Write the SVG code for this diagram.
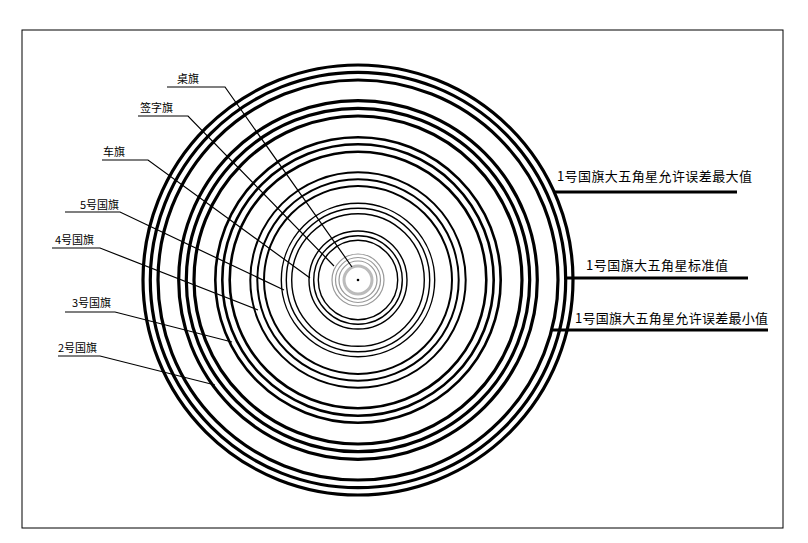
<svg xmlns="http://www.w3.org/2000/svg" width="808" height="543" viewBox="0 0 808 543">
<style>
.c{fill:none;stroke:#000}
.a{stroke-width:3.2}.b{stroke-width:2.6}.d{stroke-width:2}.e{stroke-width:1.4}
.g{fill:none;stroke:#999;stroke-width:1.2}
.l{stroke:#000;stroke-width:1.2;fill:none}
.r{stroke:#000;stroke-width:3;fill:none}
text{font-family:"Noto Sans CJK SC","Liberation Sans",sans-serif;fill:#000}
.s{font-size:11px}.t{font-size:13px}
</style>
<rect width="808" height="543" fill="#fff"/>
<rect x="22" y="30" width="761" height="498" fill="none" stroke="#000" stroke-width="1"/>
<g id="rings">
<circle class="c a" cx="358" cy="280" r="215"/><circle class="c a" cx="358" cy="280" r="207.7"/><circle class="c a" cx="358" cy="280" r="200"/>
<circle class="c a" cx="358" cy="280" r="179.3"/><circle class="c a" cx="358" cy="280" r="171.7"/><circle class="c a" cx="358" cy="280" r="164"/>
<circle class="c b" cx="358" cy="280" r="142.7"/><circle class="c b" cx="358" cy="280" r="135.7"/><circle class="c b" cx="358" cy="280" r="128.3"/>
<circle class="c d" cx="358" cy="280" r="107.7"/><circle class="c d" cx="358" cy="280" r="100.7"/><circle class="c d" cx="358" cy="280" r="94"/>
<circle class="c e" cx="358" cy="280" r="76.7"/><circle class="c e" cx="358" cy="280" r="71.7"/><circle class="c e" cx="358" cy="280" r="66.3"/>
<circle class="c e" cx="358" cy="280" r="49"/><circle class="c e" cx="358" cy="280" r="44.3"/><circle class="c e" cx="358" cy="280" r="39.7"/>
<circle class="g" cx="358" cy="280" r="26"/><circle class="g" cx="358" cy="280" r="22.5"/><circle class="g" cx="358" cy="280" r="19"/>
<circle cx="358" cy="280" r="14" fill="none" stroke="#bbb" stroke-width="3"/>
<circle cx="358" cy="280" r="1.3" fill="#000"/>
</g>
<g id="connectors">
<polyline class="l" points="167,87 225,87 352,267"/>
<polyline class="l" points="138,116 188,116 334,266"/>
<polyline class="l" points="102,160 148,160 310,278"/>
<polyline class="l" points="65,212 120,212 284,290"/>
<polyline class="l" points="52,248 100,248 258,310"/>
<polyline class="l" points="65,312 115,312 232,342"/>
<polyline class="l" points="58,356 100,356 215,385"/>
<line class="r" x1="554" y1="192" x2="737" y2="192"/>
<line class="r" x1="564" y1="278" x2="748" y2="278"/>
<line class="r" x1="552" y1="330" x2="768" y2="330"/>
</g>
<g id="labels">
<text class="s" x="177" y="83">桌旗</text>
<text class="s" x="140" y="112">签字旗</text>
<text class="s" x="103" y="156">车旗</text>
<text class="s" x="80" y="209">5号国旗</text>
<text class="s" x="55" y="244">4号国旗</text>
<text class="s" x="72" y="307">3号国旗</text>
<text class="s" x="58" y="352">2号国旗</text>
<text class="t" x="557" y="181" textLength="195">1号国旗大五角星允许误差最大值</text>
<text class="t" x="586" y="270" textLength="142">1号国旗大五角星标准值</text>
<text class="t" x="575" y="323" textLength="193">1号国旗大五角星允许误差最小值</text>
</g>
</svg>
